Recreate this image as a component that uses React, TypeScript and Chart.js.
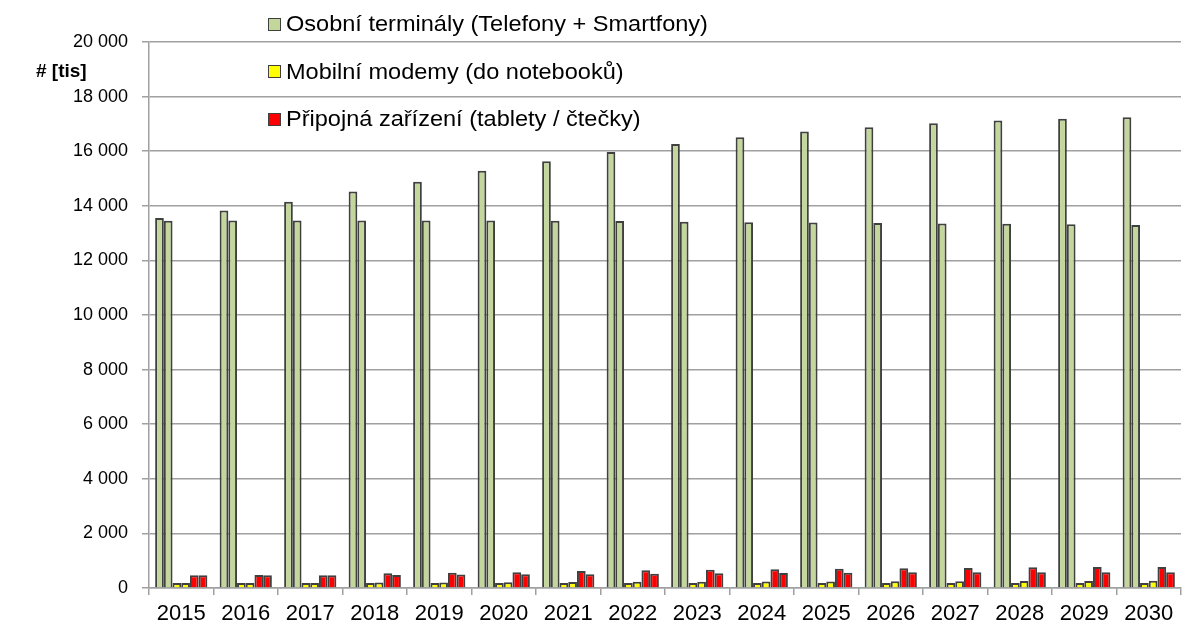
import React, { useEffect, useRef } from "react";
import { Chart, registerables } from "chart.js";

Chart.register(...registerables);

const years = ["2015","2016","2017","2018","2019","2020","2021","2022","2023","2024","2025","2026","2027","2028","2029","2030"];
const terminalsA = [13550,13830,14150,14520,14880,15280,15630,15970,16260,16510,16720,16880,17020,17120,17190,17240];
const terminalsB = [13450,13460,13460,13460,13460,13460,13450,13440,13420,13400,13390,13370,13350,13340,13320,13300];
const modemsA = [180,180,180,180,180,180,180,180,180,180,180,180,180,180,180,180];
const modemsB = [180,180,185,200,205,215,220,225,230,235,240,245,250,255,260,267];
const devicesA = [470,475,470,537,560,575,622,648,670,683,707,720,732,757,769,769];
const devicesB = [470,470,465,476,490,500,500,524,537,549,560,575,575,575,575,575];
const legendLabels = ["Osobní terminály (Telefony + Smartfony)", "Mobilní modemy (do notebooků)", "Připojná zařízení (tablety / čtečky)"];
const colors = ["#c3d69b", "#ffff00", "#ff0000"];
const yTicks = [0, 2000, 4000, 6000, 8000, 10000, 12000, 14000, 16000, 18000, 20000];
const yTitle = "# [tis]";

const FONT = "'Liberation Sans', Arial, sans-serif";

export default function App() {
  const ref = useRef<HTMLCanvasElement | null>(null);
  useEffect(() => {
    if (!ref.current) return;
    const mk = (data: number[], ci: number, label: string) => ({
      label,
      data,
      backgroundColor: colors[ci],
      borderColor: "#404040",
      borderWidth: 2,
      categoryPercentage: 0.81,
      barPercentage: 1.0,
    });
    const chart = new Chart(ref.current, {
      type: "bar",
      data: {
        labels: years,
        datasets: [
          mk(terminalsA, 0, legendLabels[0]),
          mk(terminalsB, 0, legendLabels[0] + " "),
          mk(modemsA, 1, legendLabels[1]),
          mk(modemsB, 1, legendLabels[1] + " "),
          mk(devicesA, 2, legendLabels[2]),
          mk(devicesB, 2, legendLabels[2] + " "),
        ],
      },
      options: {
        responsive: false,
        animation: false,
        maintainAspectRatio: false,
        layout: { padding: { top: 42, right: 2, left: 0, bottom: 0 } },
        plugins: { legend: { display: false }, tooltip: { enabled: false } },
        scales: {
          x: {
            grid: { drawOnChartArea: false, drawTicks: true, tickLength: 7, offset: true, color: "#a0a0a0", lineWidth: 1.5 },
            border: { color: "#a0a0a0", width: 1.5 },
            ticks: { color: "#000", font: { family: FONT, size: 22 }, padding: 6, maxRotation: 0, autoSkip: false },
            afterFit: (s: any) => { s.height = 37; },
          },
          y: {
            min: 0,
            max: 20000,
            afterBuildTicks: (s: any) => { s.ticks = yTicks.map((v) => ({ value: v })); },
            grid: { color: "#a0a0a0", lineWidth: 1.5, tickLength: 7 },
            border: { color: "#a0a0a0", width: 1.5 },
            ticks: {
              color: "#000",
              font: { family: FONT, size: 18 },
              padding: 14,
              callback: (v: any) => {
                const n = Number(v);
                return n >= 1000 ? Math.floor(n / 1000) + " " + String(n % 1000).padStart(3, "0") : String(n);
              },
            },
            afterFit: (s: any) => { s.width = 149; },
          },
        },
      },
    });
    return () => chart.destroy();
  }, []);

  return (
    <div style={{ position: "fixed", left: 0, top: 0, width: 1183, height: 625, background: "#fff" }}>
      <canvas ref={ref} width={1183} height={625} style={{ position: "absolute", left: 0, top: 0 }} />
      <div style={{ position: "absolute", left: 36, top: 60, fontFamily: FONT, fontWeight: "bold", fontSize: 19, color: "#000", whiteSpace: "nowrap" }}>{yTitle}</div>
      {legendLabels.map((l, i) => (
        <div key={l} style={{ position: "absolute", left: 268, top: 24 + i * 47.5 - 14, height: 28, display: "flex", alignItems: "center", whiteSpace: "nowrap" }}>
          <span style={{ display: "inline-block", boxSizing: "border-box", width: 13, height: 13, background: colors[i], border: "1.5px solid #404040", marginRight: 5 }} />
          <span style={{ fontFamily: FONT, fontSize: 22, color: "#000", display: "inline-block", transform: "scaleX(1.07)", transformOrigin: "left center" }}>{l}</span>
        </div>
      ))}
    </div>
  );
}
